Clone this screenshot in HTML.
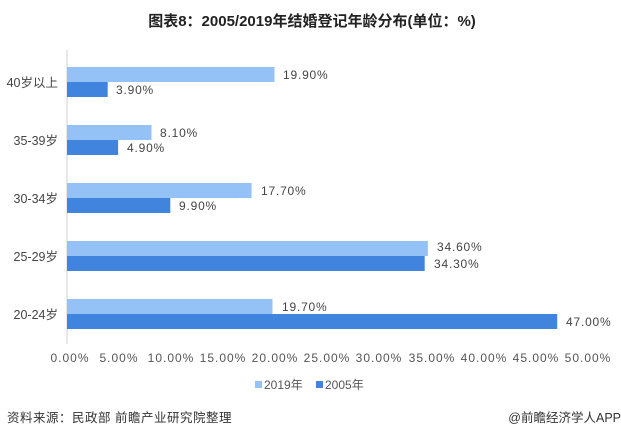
<!DOCTYPE html>
<html><head><meta charset="utf-8"><style>
body{margin:0;background:#fff;}
svg text{font-family:"Liberation Sans","Noto Sans CJK SC",sans-serif;}
</style></head><body>
<svg width="621" height="439" xmlns="http://www.w3.org/2000/svg">
<rect width="621" height="439" fill="#fff"/>
<text x="312" y="26" text-anchor="middle" font-size="15" font-weight="bold" fill="#222">图表8：2005/2019年结婚登记年龄分布(单位：%)</text>
<line x1="67" y1="50" x2="67" y2="344" stroke="#d0d0d0" stroke-width="1"/>
<g fill="#94c2f7">
<rect x="67" y="67" width="207.5" height="15"/>
<rect x="67" y="125" width="84.5" height="15"/>
<rect x="67" y="183" width="184.6" height="15"/>
<rect x="67" y="241" width="360.9" height="15"/>
<rect x="67" y="299" width="205.5" height="15"/>
</g>
<g fill="#4084de">
<rect x="67" y="82" width="40.7" height="15"/>
<rect x="67" y="140" width="51.1" height="15"/>
<rect x="67" y="198" width="103.3" height="15"/>
<rect x="67" y="256" width="357.7" height="15"/>
<rect x="67" y="314" width="490.2" height="15"/>
</g>
<g font-size="12" fill="#444" letter-spacing="0.8">
<text x="283" y="79">19.90%</text>
<text x="116" y="94">3.90%</text>
<text x="160" y="137">8.10%</text>
<text x="127" y="152">4.90%</text>
<text x="261" y="195">17.70%</text>
<text x="179" y="210">9.90%</text>
<text x="437" y="251">34.60%</text>
<text x="434" y="268">34.30%</text>
<text x="282" y="311">19.70%</text>
<text x="566" y="326">47.00%</text>
</g>
<g font-size="12.5" fill="#444" text-anchor="end">
<text x="58" y="87">40岁以上</text>
<text x="58" y="145">35-39岁</text>
<text x="58" y="203">30-34岁</text>
<text x="58" y="261">25-29岁</text>
<text x="58" y="319">20-24岁</text>
</g>
<g font-size="12" fill="#555" text-anchor="middle" letter-spacing="1">
<text x="70" y="362">0.00%</text>
<text x="119" y="362">5.00%</text>
<text x="171" y="362">10.00%</text>
<text x="223" y="362">15.00%</text>
<text x="275" y="362">20.00%</text>
<text x="327" y="362">25.00%</text>
<text x="379" y="362">30.00%</text>
<text x="432" y="362">35.00%</text>
<text x="484" y="362">40.00%</text>
<text x="536" y="362">45.00%</text>
<text x="588" y="362">50.00%</text>
</g>
<rect x="255" y="381" width="7" height="7" fill="#94c2f7"/>
<text x="264" y="389" font-size="12" fill="#555">2019年</text>
<rect x="316" y="381" width="7" height="7" fill="#4084de"/>
<text x="325" y="389" font-size="12" fill="#555">2005年</text>
<text x="7" y="422" font-size="12.5" fill="#333" letter-spacing="0.5">资料来源：民政部 前瞻产业研究院整理</text>
<text x="621" y="422" font-size="12.5" fill="#333" text-anchor="end">@前瞻经济学人APP</text>
</svg>
</body></html>
